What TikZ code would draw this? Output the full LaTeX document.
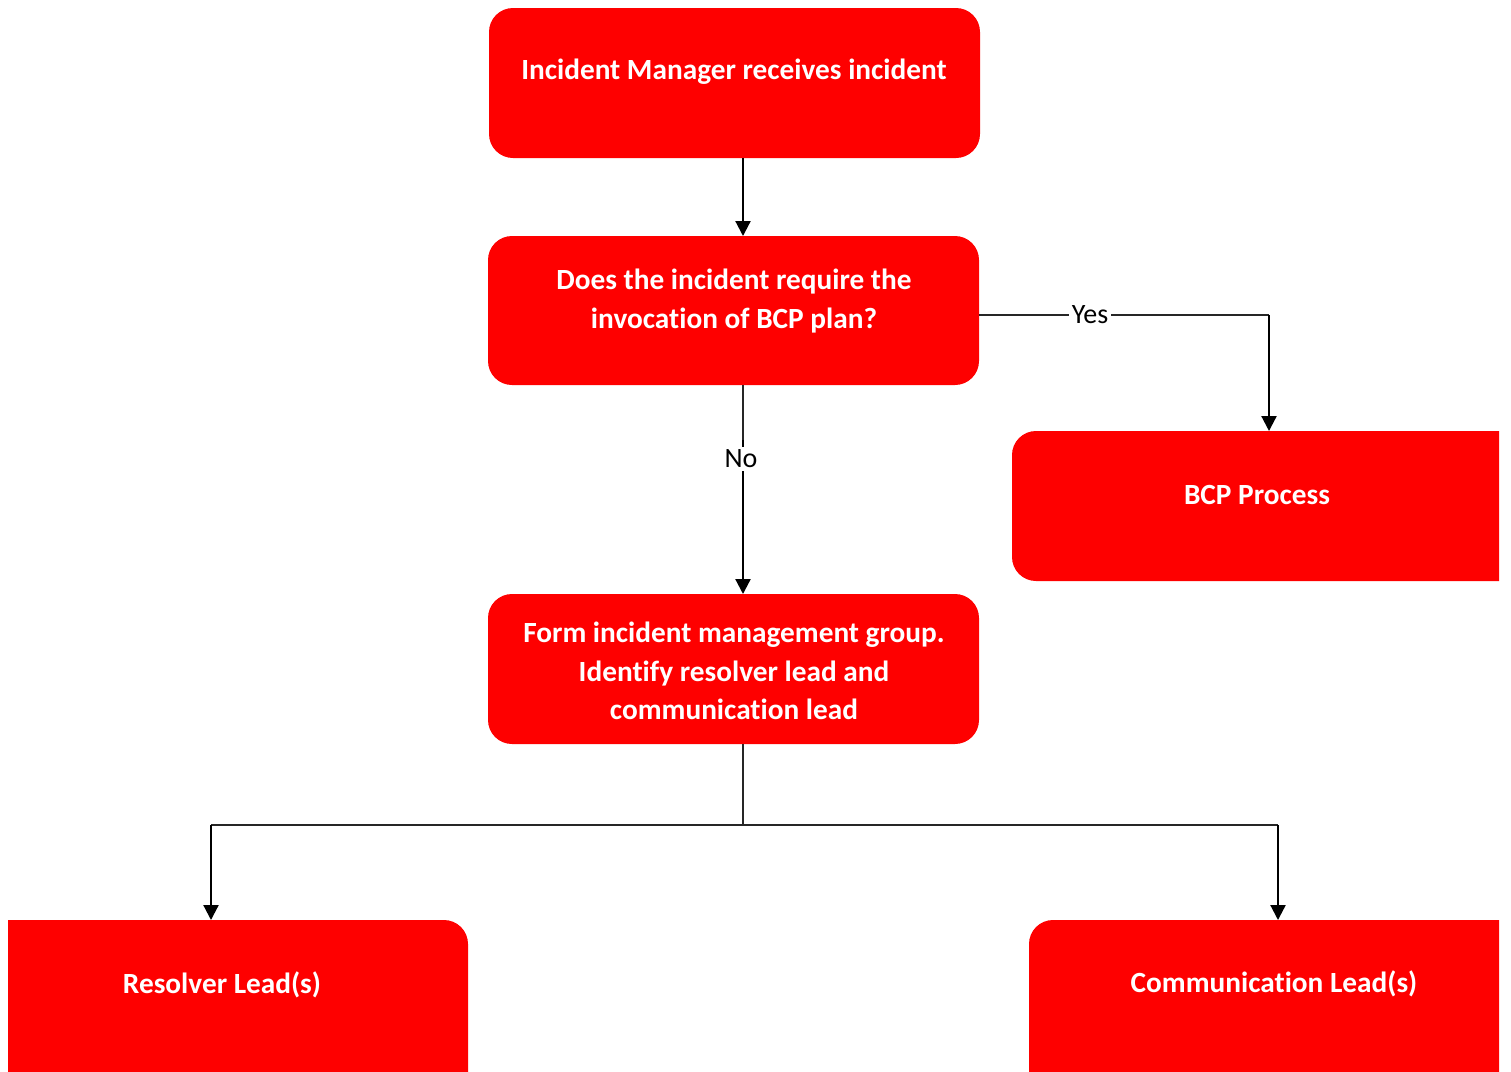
\documentclass[tikz,border=0pt]{standalone}
\usepackage{fontspec}
\setmainfont{Carlito}[Ligatures=NoCommon]
\usetikzlibrary{arrows.meta,calc}
\begin{document}
\begin{tikzpicture}[x=1pt,y=-1pt,
  boxshape/.style={fill=boxred,draw=none,rounded corners=24pt,inner sep=0pt},
  boxtext/.style={text=white,font=\fontsize{29.3}{38.5}\selectfont\bfseries,align=center,inner sep=0pt},
  lbl/.style={fill=white,font=\fontsize{28}{32}\selectfont,inner sep=3pt,text=black},
  thin/.style={draw=black!85,line width=1.1pt},
  arr/.style={draw=black,line width=2.2pt,-{Triangle[length=15pt,width=15pt]}}]
\definecolor{boxred}{RGB}{254,0,0}
\useasboundingbox (0,0) rectangle (1511,1071);
\begin{scope}
\clip (8,0) rectangle (1499,1071);
% boxes
\path[boxshape] (489,8) rectangle (980,158);
\path[boxshape] (488,236) rectangle (979,385);
\path[boxshape] (1012,431) rectangle (1540,581);
\path[boxshape] (488,594) rectangle (979,744);
\path[boxshape] (-40,920) rectangle (468,1110);
\path[boxshape] (1029,920) rectangle (1540,1110);
\end{scope}
% named anchor nodes
\node[inner sep=0pt,minimum width=491pt,minimum height=150pt] (b1) at (734.5,83) {};
\node[inner sep=0pt,minimum width=491pt,minimum height=149pt] (b2) at (733.5,310.5) {};
\node[inner sep=0pt,minimum width=528pt,minimum height=150pt] (b3) at (1276,506) {};
\node[inner sep=0pt,minimum width=491pt,minimum height=150pt] (b4) at (733.5,669) {};
\node[inner sep=0pt,minimum width=508pt,minimum height=190pt] (b5) at (214,1015) {};
\node[inner sep=0pt,minimum width=511pt,minimum height=190pt] (b6) at (1284.5,1015) {};
% texts
\node[boxtext] (t1) at (734,72) {Incident Manager receives incident};
\node[boxtext] (t2) at (734,301) {Does the incident require the\\invocation of BCP plan?};
\node[boxtext] (t3) at (1257,495) {BCP Process};
\node[boxtext] (t4) at (734,671) {Form incident management group.\\Identify resolver lead and\\communication lead};
\node[boxtext] (t5) at (222,985) {Resolver Lead(s)};
\node[boxtext] (t6) at (1274,984) {Communication Lead(s)};
% coordinates
\coordinate (c1a) at (743,158);
\coordinate (c1b) at (743,236);
\coordinate (yr) at (1269,315);
\coordinate (yb) at (1269,431);
\coordinate (ys) at (979,315);
\coordinate (ns) at (743,385);
\coordinate (nm) at (743,440);
\coordinate (ne) at (743,594);
\coordinate (fs) at (743,744);
\coordinate (fm) at (743,825);
\coordinate (fl) at (211,825);
\coordinate (fr) at (1278,825);
\coordinate (le) at (211,920);
\coordinate (re) at (1278,920);
% connectors
\draw[arr] (c1a) -- (c1b);
\draw[thin] (ys) -- (yr);
\draw[arr] (yr) -- (yb);
\node[lbl] (yes) at (1090,315) {Yes};
\draw[thin] (ns) -- (nm);
\draw[arr] (nm) -- (ne);
\node[lbl] (no) at (741,459) {No};
\draw[thin] (fs) -- (fm);
\draw[thin] (fl) -- (fr);
\draw[arr] (fl) -- (le);
\draw[arr] (fr) -- (re);
\end{tikzpicture}
\end{document}
